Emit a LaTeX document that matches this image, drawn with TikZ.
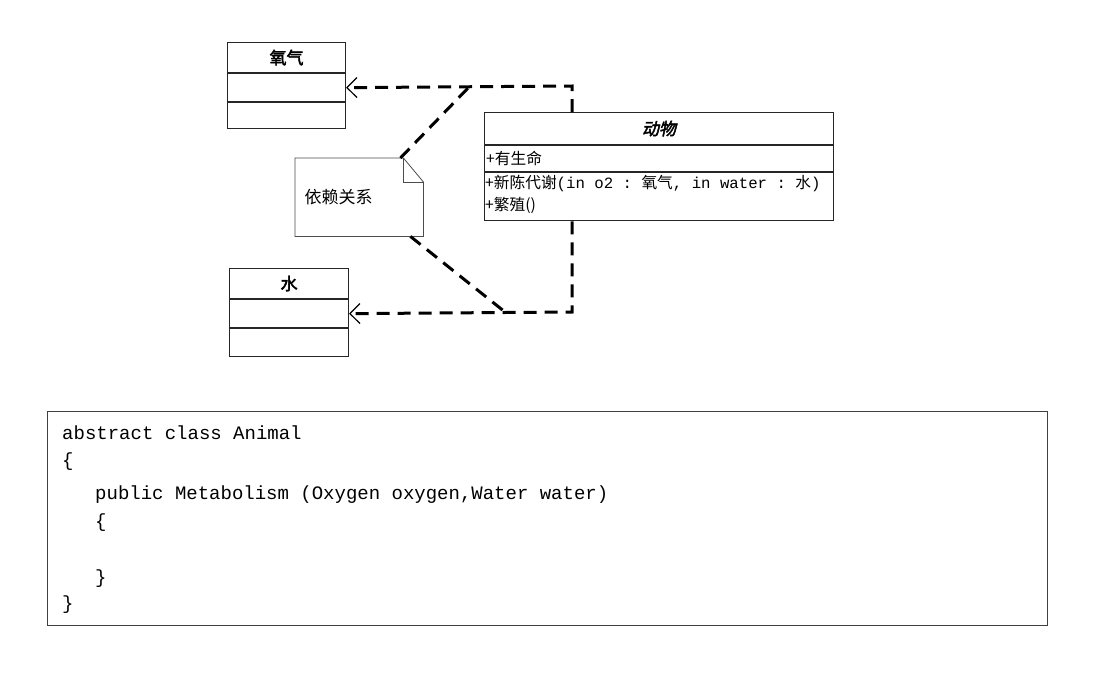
\documentclass[tikz,border=0pt]{standalone}
\usepackage{fontspec}
\setmonofont{Liberation Mono}
\newfontfamily\cjk[AutoFakeBold=2.5,AutoFakeSlant=0.2]{Noto Sans CJK SC}
\usetikzlibrary{shapes,arrows.meta,positioning}
\tikzstyle{cell} = [rectangle, draw=black!85, line width=1.1pt, inner sep=0pt, minimum width=118pt]
\tikzstyle{title} = [font=\cjk\bfseries\fontsize{17}{19}\selectfont]
\tikzstyle{member} = [anchor=west, inner sep=2pt, font=\fontsize{15.7}{22}\selectfont]
\tikzstyle{note} = [rectangle, inner sep=0pt, minimum width=128pt, minimum height=78pt]
\tikzstyle{dep} = [draw, line width=3pt, dash pattern=on 13pt off 8pt, -{Straight Barb[length=10pt,width=20pt,line width=1.2pt]}]
\tikzstyle{link} = [draw, line width=3pt, dash pattern=on 13pt off 8pt]
\tikzstyle{code} = [anchor=base west, inner sep=0pt, font=\ttfamily\fontsize{19}{21}\selectfont]
\newcommand{\zh}[1]{{\cjk #1}}
\begin{document}
\begin{tikzpicture}[x=1pt,y=-1pt]
\useasboundingbox[fill=white] (0,0) rectangle (1099,675);

% class boxes
\node [cell, title, minimum height=30pt, anchor=north west] (oxy) at (227,42) {氧气};
\node [cell, minimum height=28pt, below=0pt of oxy] (oxy-attr) {};
\node [cell, minimum height=26pt, below=0pt of oxy-attr] (oxy-ops) {};

\node [cell, title, minimum width=119pt, minimum height=30pt, anchor=north west] (water) at (229,268) {水};
\node [cell, minimum width=119pt, minimum height=28pt, below=0pt of water] (water-attr) {};
\node [cell, minimum width=119pt, minimum height=28pt, below=0pt of water-attr] (water-ops) {};

\node [cell, title, font=\cjk\bfseries\itshape\fontsize{17}{19}\selectfont, minimum width=349pt, minimum height=32pt, anchor=north west] (animal) at (484,112) {动物};
\node [cell, minimum width=349pt, minimum height=26pt, below=0pt of animal] (animal-attr) {};
\node [cell, minimum width=349pt, minimum height=48pt, below=0pt of animal-attr] (animal-ops) {};

\node [member] (attr) at (animal-attr.west) {\zh{+有生命}};
\node [member, anchor=north west, align=left, inner sep=1pt] (ops) at ([yshift=-2pt]animal-ops.north west)
  {\zh{+新陈代谢}\ttfamily(in o2 : \zh{氧气}, in water : \zh{水})\\\zh{+繁殖()}};

% note
\node [note, anchor=north west] (note) at (295,158) {};
\node [anchor=west, font=\cjk\fontsize{17}{19}\selectfont] (note-text) at ([xshift=6pt]note.west) {依赖关系};
\draw [black!70, line width=0.8pt] (note.north west) -- ([xshift=-20pt]note.north east) -- ([yshift=-24pt]note.north east) -- (note.south east) -- (note.south west) -- cycle;
\draw [black!70, line width=0.8pt] ([xshift=-20pt]note.north east) -- ([xshift=-20pt,yshift=-24pt]note.north east) -- ([yshift=-24pt]note.north east);

% dependencies
\coordinate (top-bend) at (572,86);
\coordinate (bottom-bend) at (572,312);
\coordinate (top-join) at (470,86);
\coordinate (bottom-join) at (505,312);

\path [dep] (animal.north -| top-bend) -- (top-bend) -- (oxy-attr.east);
\path [dep] (animal-ops.south -| bottom-bend) -- (bottom-bend) -- (water-attr.east);
\path [link] ([xshift=-23pt]note.north east) -- (top-join);
\path [link] ([xshift=-13pt]note.south east) -- (bottom-join);

% code
\node [draw=black!75, line width=1.2pt, minimum width=1000pt, minimum height=214pt, anchor=north west] (codebox) at (47,411) {};
\node [code] (line1) at (62,439) {abstract class Animal};
\node [code] (line2) at (62,466) {\{};
\node [code] (line3) at (95,499) {public Metabolism (Oxygen oxygen,Water water)};
\node [code] (line4) at (95,527) {\{};
\node [code] (line5) at (95,583) {\}};
\node [code] (line6) at (62,609) {\}};

\end{tikzpicture}
\end{document}
